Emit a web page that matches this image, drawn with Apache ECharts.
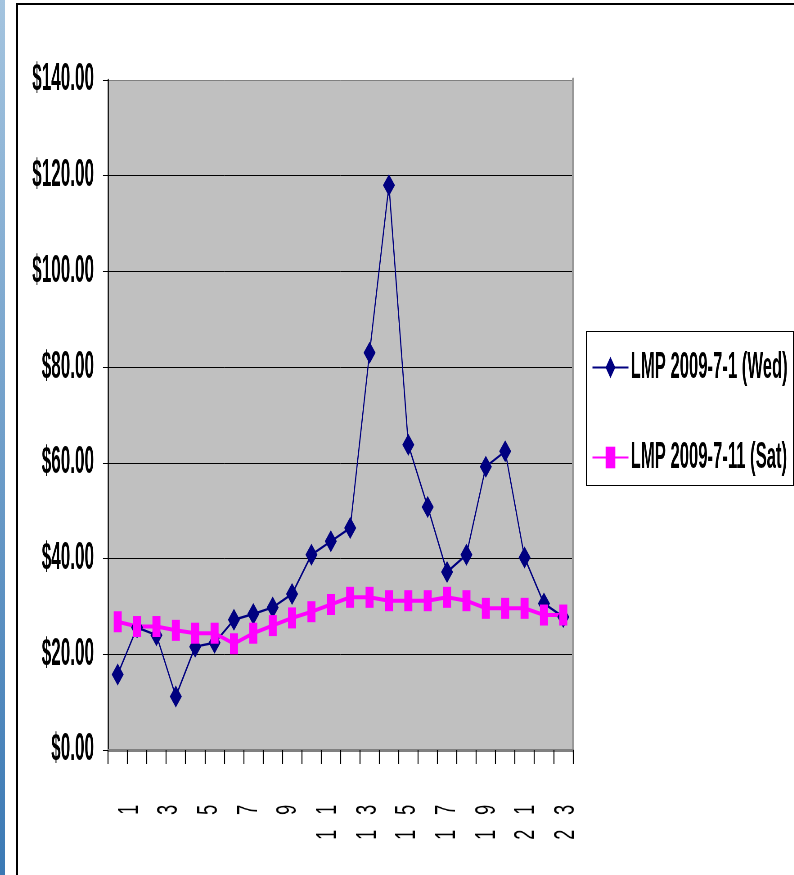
<!DOCTYPE html>
<html>
<head>
<meta charset="utf-8">
<script src="https://cdn.jsdelivr.net/npm/echarts@6/dist/echarts.min.js"></script>
<style>
  html, body { margin: 0; padding: 0; width: 794px; height: 875px; overflow: hidden; background: #fff; }
  #side { position: absolute; left: 0; top: 0; width: 5px; height: 875px; background: linear-gradient(#a4c4df, #3b79b4); }
  #frame { position: absolute; left: 16px; top: 3px; width: 820px; height: 900px; border-top: 2px solid #000; border-left: 2px solid #000; }
  #legendBox { position: absolute; left: 586px; top: 331px; width: 206px; height: 153px; border: 1px solid #000; }
  /* the chart is laid out wide and squeezed horizontally (narrow, tall lettering) */
  #chart { position: absolute; left: 0; top: 0; width: 1764px; height: 875px; transform: scaleX(0.45); transform-origin: 0 0; }
  /* hour labels: laid out as a vertical axis, then turned a quarter turn counter-clockwise and flattened */
  #hours { position: absolute; left: 0; top: 875px; width: 200px; height: 794px; transform: scaleY(0.6) rotate(-90deg); transform-origin: 0 0; }
</style>
</head>
<body>
<div id="side"></div>
<div id="frame"></div>
<div id="legendBox"></div>
<div id="chart"></div>
<div id="hours"></div>
<script>
// Hourly locational marginal prices ($/MWh)
const hours = ['1','2','3','4','5','6','7','8','9','10','11','12',
               '13','14','15','16','17','18','19','20','21','22','23','24'];
const wedName = 'LMP 2009-7-1 (Wed)';
const satName = 'LMP 2009-7-11 (Sat)';
const wedPrices = [15.8, 25.6, 24.0, 11.2, 21.6, 22.4, 27.2, 28.4, 29.8, 32.6, 40.8, 43.6,
                   46.4, 83.0, 118.0, 63.8, 50.8, 37.2, 40.8, 59.2, 62.4, 40.2, 30.6, 27.8];
const satPrices = [26.8, 25.8, 25.8, 25.0, 24.4, 24.4, 22.2, 24.4, 26.0, 27.6, 28.9, 30.4,
                   31.9, 31.9, 31.2, 31.2, 31.2, 31.9, 31.2, 29.6, 29.6, 29.6, 28.2, 28.2];
const priceTicks = { min: 0, max: 140, step: 20 };

const FONT = '"Liberation Sans", Arial, sans-serif';
const SX = 0.45;                 // horizontal squeeze of the main chart
const wx = v => v / SX;          // screen width -> layout width

const chart = echarts.init(document.getElementById('chart'), null, { renderer: 'canvas' });
chart.setOption({
  backgroundColor: 'transparent',
  animation: false,
  grid: {
    left: wx(108), top: 80, width: wx(465), height: 670,
    show: true, backgroundColor: '#c0c0c0', borderWidth: 0,
    outerBoundsMode: 'none'
  },
  xAxis: [
    {
      type: 'category', data: hours, boundaryGap: true,
      axisLine: { show: true, lineStyle: { color: '#000', width: 2 } },
      axisTick: { show: true, interval: 0, length: 14, lineStyle: { color: '#000', width: 2.2 } },
      axisLabel: { show: false },
      splitLine: { show: false }
    },
    {
      type: 'category', data: hours, position: 'top', boundaryGap: true,
      axisLine: { show: true, lineStyle: { color: '#808080', width: 3 } },
      axisTick: { show: false }, axisLabel: { show: false }, splitLine: { show: false }
    }
  ],
  yAxis: [
    {
      type: 'value', min: priceTicks.min, max: priceTicks.max, interval: priceTicks.step,
      axisLine: { show: true, lineStyle: { color: '#000', width: 2.5 } },
      axisTick: { show: true, length: wx(5), lineStyle: { color: '#000', width: 1 } },
      axisLabel: {
        margin: wx(14), color: '#000', fontSize: 38, fontWeight: 'bold', fontFamily: FONT,
        formatter: v => '$' + v.toFixed(2)
      },
      splitLine: {
        show: true,
        lineStyle: { color: ['#000', '#000', '#000', '#000', '#000', '#000', '#000', '#808080'], width: 1 }
      }
    },
    {
      type: 'value', position: 'right', min: priceTicks.min, max: priceTicks.max, interval: priceTicks.step,
      axisLine: { show: true, lineStyle: { color: '#999', width: 5 } },
      axisTick: { show: false }, axisLabel: { show: false }, splitLine: { show: false }
    }
  ],
  legend: {
    orient: 'vertical',
    left: wx(592), top: 349,
    itemWidth: wx(36), itemHeight: 27, itemGap: 53,
    padding: 0,
    selectedMode: false,
    textStyle: { fontSize: 37, fontWeight: 'bold', color: '#000', fontFamily: FONT },
    data: [wedName, satName]
  },
  series: [
    {
      name: wedName, type: 'line', data: wedPrices,
      xAxisIndex: 0, yAxisIndex: 0,
      symbol: 'diamond', symbolSize: [wx(12), 22], showAllSymbol: true,
      lineStyle: { color: '#000080', width: 2.5 },
      itemStyle: { color: '#000080' },
      emphasis: { disabled: true }
    },
    {
      name: satName, type: 'line', data: satPrices,
      xAxisIndex: 0, yAxisIndex: 0,
      symbol: 'rect', symbolSize: [wx(8), 21], showAllSymbol: true,
      lineStyle: { color: '#ff00ff', width: 4 },
      itemStyle: { color: '#ff00ff' },
      emphasis: { disabled: true }
    }
  ]
});

// Hour labels: every other hour, digits spaced apart so they stack once turned
const hourAxis = echarts.init(document.getElementById('hours'), null, { renderer: 'canvas' });
hourAxis.setOption({
  backgroundColor: 'transparent',
  animation: false,
  grid: { left: 150, width: 10, top: 119.6, height: 476, outerBoundsMode: 'none' },
  xAxis: { type: 'value', show: false },
  yAxis: {
    type: 'category', data: hours, inverse: true, boundaryGap: true, position: 'left',
    axisLine: { show: false }, axisTick: { show: false }, splitLine: { show: false },
    axisLabel: {
      interval: 1, margin: 33, fontSize: 30, color: '#000', fontFamily: FONT,
      overflow: 'none', hideOverlap: false,
      formatter: v => v.split('').join('   ')
    }
  },
  series: []
});
</script>
</body>
</html>
